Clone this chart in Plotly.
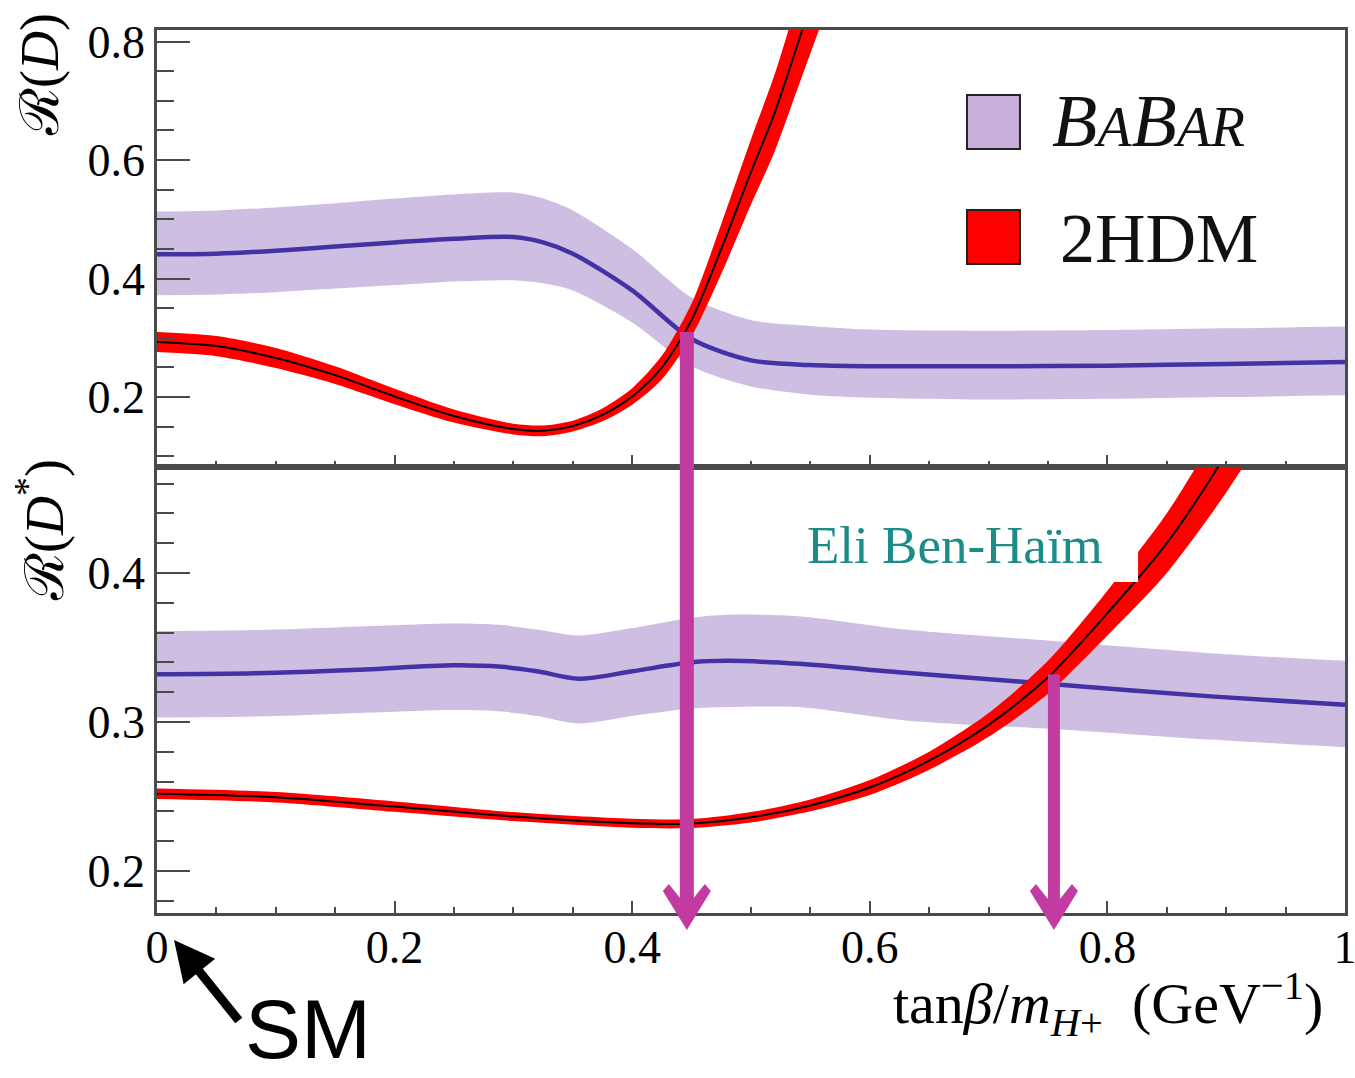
import plotly.graph_objects as go
from plotly.subplots import make_subplots

# ---------------- data: upper panel R(D) ----------------
x_babar_d = [0, 0.05, 0.1, 0.15, 0.2, 0.25, 0.3, 0.325, 0.35, 0.4, 0.45, 0.5, 0.55, 0.6, 0.7, 0.8, 0.9, 1.0]
babar_d_center = [0.441, 0.442, 0.447, 0.454, 0.461, 0.467, 0.470, 0.461, 0.442, 0.380, 0.298, 0.262, 0.254, 0.252, 0.252, 0.253, 0.256, 0.259]
babar_d_upper = [0.513, 0.515, 0.520, 0.527, 0.535, 0.542, 0.545, 0.535, 0.515, 0.450, 0.368, 0.330, 0.320, 0.314, 0.312, 0.313, 0.316, 0.319]
babar_d_lower = [0.372, 0.373, 0.377, 0.383, 0.389, 0.395, 0.397, 0.392, 0.380, 0.326, 0.252, 0.218, 0.204, 0.199, 0.196, 0.197, 0.200, 0.203]

x_2hdm_d = [0, 0.05, 0.1, 0.15, 0.2, 0.25, 0.3, 0.325, 0.35, 0.375, 0.4, 0.425, 0.45, 0.475, 0.5, 0.52, 0.54, 0.56]
hdm_d_center = [0.293, 0.286, 0.266, 0.237, 0.201, 0.168, 0.146, 0.143, 0.151, 0.170, 0.201, 0.250, 0.330, 0.450, 0.580, 0.680, 0.800, 0.920]
hdm_d_upper = [0.310, 0.303, 0.283, 0.252, 0.214, 0.179, 0.155, 0.152, 0.160, 0.181, 0.215, 0.270, 0.358, 0.492, 0.635, 0.745, 0.875, 1.005]
hdm_d_lower = [0.276, 0.269, 0.249, 0.222, 0.188, 0.157, 0.137, 0.134, 0.142, 0.159, 0.187, 0.230, 0.302, 0.408, 0.525, 0.615, 0.725, 0.835]

# ---------------- data: lower panel R(D*) ----------------
x_babar_ds = [0, 0.1, 0.17, 0.25, 0.29, 0.32, 0.355, 0.4, 0.45, 0.48, 0.54, 0.63, 0.76, 0.89, 1.0]
babar_ds_center = [0.332, 0.333, 0.335, 0.338, 0.337, 0.334, 0.329, 0.334, 0.340, 0.341, 0.339, 0.333, 0.325, 0.317, 0.3115]
babar_ds_upper = [0.361, 0.362, 0.364, 0.366, 0.365, 0.362, 0.358, 0.363, 0.370, 0.372, 0.371, 0.362, 0.354, 0.346, 0.341]
babar_ds_lower = [0.303, 0.304, 0.306, 0.308, 0.307, 0.304, 0.299, 0.304, 0.309, 0.310, 0.310, 0.301, 0.295, 0.288, 0.283]

x_2hdm_ds = [0, 0.1, 0.2, 0.3, 0.4, 0.45, 0.5, 0.55, 0.6, 0.65, 0.7, 0.75, 0.8, 0.85, 0.9, 0.95]
hdm_ds_center = [0.2518, 0.2495, 0.2432, 0.2365, 0.2320, 0.2318, 0.2360, 0.2440, 0.2560, 0.2740, 0.2980, 0.3300, 0.3730, 0.4200, 0.4800, 0.5500]
hdm_ds_upper = [0.2553, 0.2530, 0.2467, 0.2395, 0.2350, 0.2348, 0.2395, 0.2480, 0.2610, 0.2800, 0.3060, 0.3410, 0.3880, 0.4400, 0.5060, 0.5830]
hdm_ds_lower = [0.2483, 0.2460, 0.2397, 0.2335, 0.2290, 0.2288, 0.2325, 0.2400, 0.2510, 0.2680, 0.2900, 0.3190, 0.3580, 0.4000, 0.4540, 0.5170]

# crossing points marked by arrows
arrow_x = [0.446, 0.755]
arrow_top = [0.310, 0.332]  # value in R(D) panel, value in R(D*) panel

# axis ranges
x_range = [0, 1]
yd_range = [0.082, 0.8194]
yds_range = [0.1718, 0.4711]

LAV = "#CEBEE2"
LAV_BOX = "#C8AED8"
BLUE = "#4332A3"
RED = "#FF0000"
MAG = "#C13BA1"
TEAL = "#1B8C88"
SERIF = "Liberation Serif, DejaVu Serif, serif"

H_TOP, H_BOT = 437, 446
fig = make_subplots(rows=2, cols=1, shared_xaxes=True, vertical_spacing=0,
                    row_heights=[H_TOP, H_BOT])


def band(x, up, lo, color, row):
    fig.add_trace(go.Scatter(x=x, y=up, mode="lines", line=dict(width=0, shape="spline", smoothing=0.8),
                             showlegend=False, hoverinfo="skip"), row=row, col=1)
    fig.add_trace(go.Scatter(x=x, y=lo, mode="lines", line=dict(width=0, shape="spline", smoothing=0.8),
                             fill="tonexty", fillcolor=color, showlegend=False, hoverinfo="skip"), row=row, col=1)


def curve(x, y, color, width, row):
    fig.add_trace(go.Scatter(x=x, y=y, mode="lines", line=dict(color=color, width=width, shape="spline", smoothing=0.8),
                             showlegend=False, hoverinfo="skip"), row=row, col=1)


band(x_babar_d, babar_d_upper, babar_d_lower, LAV, 1)
curve(x_babar_d, babar_d_center, BLUE, 4.5, 1)
band(x_2hdm_d, hdm_d_upper, hdm_d_lower, RED, 1)
curve(x_2hdm_d, hdm_d_center, "black", 2, 1)

band(x_babar_ds, babar_ds_upper, babar_ds_lower, LAV, 2)
curve(x_babar_ds, babar_ds_center, BLUE, 4.5, 2)
band(x_2hdm_ds, hdm_ds_upper, hdm_ds_lower, RED, 2)
curve(x_2hdm_ds, hdm_ds_center, "black", 2, 2)

AX_COL = "#4a4a4a"
tickfont = dict(family=SERIF, size=46, color="black")
common_x = dict(range=x_range, ticks="inside", ticklen=12, tickwidth=2, tickcolor=AX_COL, dtick=0.2, tick0=0,
                minor=dict(ticks="inside", ticklen=6, tickwidth=2, dtick=0.05, tickcolor=AX_COL),
                showline=True, mirror=True, linecolor=AX_COL, linewidth=2.5, showgrid=False, zeroline=False,
                tickfont=tickfont, automargin=False, ticklabelstandoff=-8, ticklabeloverflow="allow")
fig.update_xaxes(**common_x)
fig.update_xaxes(showticklabels=False, row=1, col=1)
fig.update_xaxes(showticklabels=True, row=2, col=1)

common_y = dict(ticks="inside", ticklen=33, tickwidth=2, tickcolor=AX_COL,
                showline=True, mirror=True, linecolor=AX_COL, linewidth=2.5, showgrid=False, zeroline=False,
                tickfont=tickfont, ticklabelstandoff=0, automargin=False)
fig.update_yaxes(range=yd_range, dtick=0.2, tick0=0,
                 minor=dict(ticks="inside", ticklen=17, tickwidth=2, dtick=0.05, tickcolor=AX_COL),
                 row=1, col=1, **common_y)
fig.update_yaxes(range=yds_range, dtick=0.1, tick0=0,
                 minor=dict(ticks="inside", ticklen=17, tickwidth=2, dtick=0.02, tickcolor=AX_COL),
                 row=2, col=1, **common_y)

d = H_BOT / (H_TOP + H_BOT)


def paper_top(v):
    return d + (1 - d) * (v - yd_range[0]) / (yd_range[1] - yd_range[0])


def paper_bot(v):
    return d * (v - yds_range[0]) / (yds_range[1] - yds_range[0])


shapes = []
# white patch behind the watermark text
shapes.append(dict(type="rect", xref="x2", yref="y2", x0=0.5286, x1=0.8258, y0=0.3939, y1=0.445,
                   fillcolor="white", line=dict(width=0), layer="above"))
# magenta arrows
tops = [paper_top(arrow_top[0]), paper_bot(arrow_top[1])]
head = "M 0,-17 L -24,22 L -18,29 L -6,14 L 6,14 L 18,29 L 24,22 Z"
for xa, yt, w in zip(arrow_x, tops, [14, 12]):
    shapes.append(dict(type="line", xref="x2", yref="paper", x0=xa, x1=xa, y0=0, y1=yt,
                       line=dict(color=MAG, width=w), layer="above"))
    shapes.append(dict(type="path", xref="x2", yref="paper", xsizemode="pixel", ysizemode="pixel",
                       xanchor=xa, yanchor=0, path=head, fillcolor=MAG, line=dict(width=0), layer="above"))
# legend boxes
shapes.append(dict(type="rect", xref="paper", yref="paper", x0=0.6818, x1=0.7264, y0=0.8652, y1=0.9264,
                   fillcolor=LAV_BOX, line=dict(color="#222", width=2), layer="above"))
shapes.append(dict(type="rect", xref="paper", yref="paper", x0=0.6818, x1=0.7264, y0=0.7350, y1=0.7961,
                   fillcolor=RED, line=dict(color="#222", width=2), layer="above"))

small = "<span style='font-size:56px'>"
annotations = [
    dict(text="<i>B</i>" + small + "<i>A</i></span><i>B</i>" + small + "<i>AR</i></span>",
         xref="paper", yref="paper", x=0.7517, y=0.8969, xanchor="left", yanchor="middle",
         showarrow=False, font=dict(family=SERIF, size=74, color="#111")),
    dict(text="2HDM", xref="paper", yref="paper", x=0.7584, y=0.7644, xanchor="left", yanchor="middle",
         showarrow=False, font=dict(family=SERIF, size=70, color="#111")),
    dict(text="Eli Ben-Haïm", xref="paper", yref="paper", x=(955 - 157) / 1188, y=(913 - 545) / 883,
         xanchor="center", yanchor="middle", showarrow=False, font=dict(family=SERIF, size=53, color=TEAL)),
    dict(text="ℛ(<i>D</i>)", xref="paper", yref="paper", x=(40 - 157) / 1188, y=(913 - 75) / 883,
         xanchor="center", yanchor="middle", textangle=-90, showarrow=False,
         font=dict(family=SERIF, size=54, color="black")),
    dict(text="ℛ(<i>D</i><sup>*</sup>)", xref="paper", yref="paper", x=(40 - 157) / 1188, y=(913 - 530) / 883,
         xanchor="center", yanchor="middle", textangle=-90, showarrow=False,
         font=dict(family=SERIF, size=54, color="black")),
    dict(text="tan<i>β</i>/<i>m</i><sub><i>H</i>+</sub>  (GeV<sup>−1</sup>)", xref="paper", yref="paper",
         x=(1325 - 157) / 1188, y=(913 - 1004) / 883, xanchor="right", yanchor="middle", showarrow=False,
         font=dict(family=SERIF, size=58, color="black")),
    dict(text="SM", xref="paper", yref="paper", x=(243 - 157) / 1188, y=(913 - 1078) / 883,
         xanchor="left", yanchor="bottom", showarrow=False,
         font=dict(family="Liberation Sans, Arial, sans-serif", size=84, color="black")),
    dict(text="", xref="paper", yref="paper", x=(174 - 157) / 1188, y=(913 - 940) / 883,
         ax=66, ay=82, showarrow=True, arrowhead=2, arrowsize=0.9, arrowwidth=9, arrowcolor="black",
         standoff=0),
]

fig.update_layout(width=1355, height=1078, margin=dict(l=157, r=10, t=30, b=165),
                  paper_bgcolor="white", plot_bgcolor="white", showlegend=False,
                  shapes=shapes, annotations=annotations)

fig.write_html("out.html")
